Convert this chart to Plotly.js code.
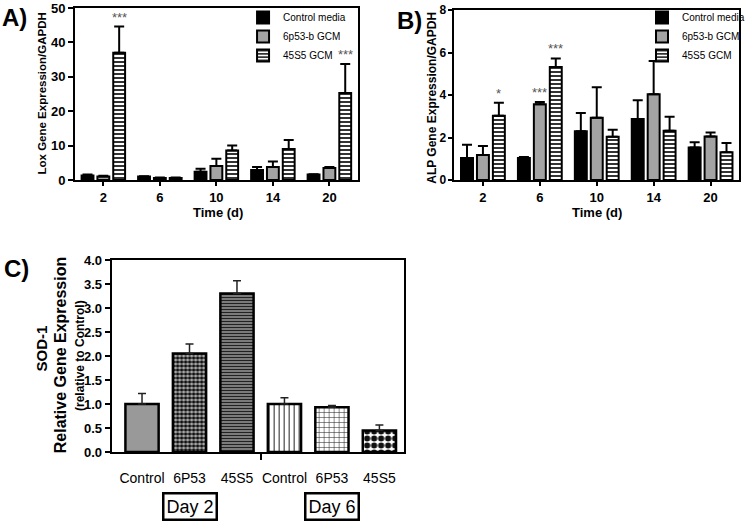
<!DOCTYPE html>
<html>
<head>
<meta charset="utf-8">
<script src="https://cdn.plot.ly/plotly-3.0.1.min.js"></script>
<style>html,body{margin:0;padding:0;background:#fff;}#chart{width:750px;height:523px;}</style>
</head>
<body>
<div id="chart"></div>
<script>
// ---------- DATA ----------
const days = ['2', '6', '10', '14', '20'];
const seriesNames = ['Control media', '6p53-b GCM', '45S5 GCM'];

// Panel A: Lox gene expression / GAPDH
const loxControl    = [1.3, 1.0, 2.4, 2.9, 1.6];
const loxControlErr = [0.3, 0.1, 0.9, 0.9, 0.1];
const lox6p53       = [1.0, 0.6, 4.1, 3.8, 3.5];
const lox6p53Err    = [0.2, 0.1, 2.1, 1.6, 0.3];
const lox45S5       = [37.0, 0.6, 8.6, 9.0, 25.3];
const lox45S5Err    = [7.6, 0.1, 1.4, 2.6, 8.4];
const loxSig45S5    = ['***', '', '', '', '***'];

// Panel B: ALP gene expression / GAPDH
const alpControl    = [1.03, 1.03, 2.30, 2.87, 1.53];
const alpControlErr = [0.63, 0.05, 0.85, 0.88, 0.25];
const alp6p53       = [1.18, 3.57, 2.93, 4.03, 2.05];
const alp6p53Err    = [0.42, 0.10, 1.43, 1.57, 0.18];
const alp45S5       = [3.02, 5.32, 2.04, 2.32, 1.31];
const alp45S5Err    = [0.62, 0.40, 0.32, 0.66, 0.43];
const alpSig6p53    = ['', '***', '', '', ''];
const alpSig45S5    = ['*', '***', '', '', ''];

// Panel C: SOD-1 relative gene expression
const sodLabels = ['Control', '6P53', '45S5', 'Control', '6P53', '45S5'];
const sodValues = [1.00, 2.05, 3.30, 1.00, 0.93, 0.45];
const sodErr    = [0.22, 0.20, 0.27, 0.13, 0.04, 0.11];
const dayLabels = ['Day 2', 'Day 6'];
const dayGroupCenter = [1, 4];

// ---------- STYLE ----------
const SANS = '"Liberation Sans", Arial, sans-serif';
const W = 750, H = 523;
const px = v => v / W;
const py = v => 1 - v / H;

const seriesStyle = [
  {color: 'black', pattern: {shape: ''}},
  {color: '#a3a3a3', pattern: {shape: ''}},
  {color: 'white', pattern: {shape: '-', fgcolor: 'black', bgcolor: 'white', size: 4, solidity: 0.4}}
];

// per-bar fills of panel C
const sodFill = [
  {color: '#999999', pattern: {shape: ''}},
  {color: '#999999', pattern: {shape: '.', fgcolor: '#111', bgcolor: '#bdbdbd', size: 4, solidity: 0.65}},
  {color: '#808080', pattern: {shape: '-', fgcolor: '#222', bgcolor: '#858585', size: 3, solidity: 0.4}},
  {color: 'white', pattern: {shape: '|', fgcolor: '#222', bgcolor: 'white', size: 5, solidity: 0.2}},
  {color: 'white', pattern: {shape: '+', fgcolor: '#222', bgcolor: 'white', size: 5, solidity: 0.2}},
  {color: 'white', pattern: {shape: '.', fgcolor: '#111', bgcolor: 'white', size: 7, solidity: 0.6}}
];

function barTrace(name, y, err, i, xa, ya, legend) {
  return {
    type: 'bar', name: name, x: days, y: y,
    xaxis: xa, yaxis: ya, legend: legend,
    marker: {color: seriesStyle[i].color, pattern: seriesStyle[i].pattern, line: {color: 'black', width: 2}},
    error_y: {type: 'data', symmetric: false, array: err, arrayminus: err.map(() => 0),
              color: 'black', thickness: 2, width: 5}
  };
}

const traces = [
  barTrace(seriesNames[0], loxControl, loxControlErr, 0, 'x', 'y', 'legend'),
  barTrace(seriesNames[1], lox6p53, lox6p53Err, 1, 'x', 'y', 'legend'),
  barTrace(seriesNames[2], lox45S5, lox45S5Err, 2, 'x', 'y', 'legend'),
  barTrace(seriesNames[0], alpControl, alpControlErr, 0, 'x2', 'y2', 'legend2'),
  barTrace(seriesNames[1], alp6p53, alp6p53Err, 1, 'x2', 'y2', 'legend2'),
  barTrace(seriesNames[2], alp45S5, alp45S5Err, 2, 'x2', 'y2', 'legend2')
];
sodLabels.forEach((lab, i) => traces.push({
  type: 'bar', name: lab, x: [i], y: [sodValues[i]], width: 0.7, offset: -0.35,
  xaxis: 'x3', yaxis: 'y3', showlegend: false,
  marker: {color: sodFill[i].color, pattern: sodFill[i].pattern, line: {color: 'black', width: 2.5}},
  error_y: {type: 'data', symmetric: false, array: [sodErr[i]], arrayminus: [0],
            color: '#222', thickness: 1.5, width: 4}
}));

const gap = 0.16;
const slot = (1 - gap) / 3;

const annotations = [];
function stars(sig, vals, errs, seriesIdx, xref, yref) {
  sig.forEach((s, i) => {
    if (!s) return;
    annotations.push({
      x: i + (seriesIdx - 1) * slot, y: vals[i] + errs[i], xref: xref, yref: yref,
      text: s, showarrow: false, xanchor: 'center', yanchor: 'bottom', yshift: 0,
      font: {family: SANS, size: 13, color: '#555'}
    });
  });
}
stars(loxSig45S5, lox45S5, lox45S5Err, 2, 'x', 'y');
stars(alpSig6p53, alp6p53, alp6p53Err, 1, 'x2', 'y2');
stars(alpSig45S5, alp45S5, alp45S5Err, 2, 'x2', 'y2');

[['A)', 0, 17], ['B)', 400, 21], ['C)', 2, 268]].forEach(([t, x, y]) => annotations.push({
  text: t, x: px(x), y: py(y), xref: 'paper', yref: 'paper', xanchor: 'left', yanchor: 'middle',
  showarrow: false, font: {family: SANS, size: 24, weight: 'bold', color: 'black'}
}));

function vtitle(text, x, y, size) {
  annotations.push({text: text, x: px(x), y: py(y), xref: 'paper', yref: 'paper', textangle: -90,
    xanchor: 'center', yanchor: 'middle', showarrow: false,
    font: {family: SANS, size: size, weight: 'bold', color: 'black'}});
}
vtitle('Lox Gene Expression/GAPDH', 43, 93, 11.5);
vtitle('ALP Gene Expression/GAPDH', 437, 98, 12);
vtitle('SOD-1', 42, 348, 15);
vtitle('Relative Gene Expression', 61, 355, 16);
vtitle('(relative to Control)', 81, 356, 12);
[[221, 213], [604, 213]].forEach(([x, y]) => annotations.push({
  text: 'Time (d)', x: px(x), y: py(y), xref: 'paper', yref: 'paper', showarrow: false,
  xanchor: 'center', yanchor: 'middle',
  font: {family: SANS, size: 13, weight: 'bold', color: 'black'}
}));

dayLabels.forEach((t, i) => annotations.push({
  text: t, x: dayGroupCenter[i], xref: 'x3', y: py(506), yref: 'paper', showarrow: false,
  xanchor: 'center', yanchor: 'middle',
  bordercolor: 'black', borderwidth: 2.5, borderpad: 2,
  font: {family: SANS, size: 18, color: 'black'}
}));

function yax(domain, range, dtick, anchor, fmt, fsize, tlen) {
  return {domain: domain, range: range, dtick: dtick, anchor: anchor, tickformat: fmt || '',
    showline: true, linecolor: 'black', linewidth: 2, mirror: true,
    ticks: 'outside', ticklen: tlen || 5, tickwidth: 2, tickcolor: 'black',
    ticklabeloverflow: 'allow',
    showgrid: false, zeroline: false, fixedrange: true,
    tickfont: {family: SANS, size: fsize || 13, weight: 'bold', color: 'black'}};
}
function xax(domain, anchor) {
  return {domain: domain, anchor: anchor, type: 'category',
    showline: true, linecolor: 'black', linewidth: 2, mirror: true,
    ticks: 'outside', ticklen: 4, tickwidth: 2, tickcolor: 'black',
    ticklabeloverflow: 'allow',
    showgrid: false, zeroline: false,
    tickfont: {family: SANS, size: 13, weight: 'bold', color: 'black'}};
}

const layout = {
  width: W, height: H, margin: {l: 0, r: 0, t: 0, b: 0},
  paper_bgcolor: 'white', plot_bgcolor: 'white',
  barmode: 'group', bargap: gap, bargroupgap: 0.25,
  showlegend: true,
  xaxis: xax([px(76), px(362)], 'y'),
  yaxis: yax([py(180), py(8)], [0, 50], 10, 'x'),
  xaxis2: xax([px(460), px(748)], 'y2'),
  yaxis2: yax([py(180), py(10)], [0, 8], 2, 'x2', '', 12, 4),
  xaxis3: {domain: [px(113), px(409)], anchor: 'y3', range: [-0.64, 5.52],
    tickvals: sodLabels.map((_, i) => i), ticktext: sodLabels, ticks: '',
    ticklabelstandoff: 12, ticklabeloverflow: 'allow',
    minor: {tickvals: [2.5], ticks: 'outside', ticklen: 6, tickwidth: 2, tickcolor: 'black'},
    showline: true, linecolor: 'black', linewidth: 2, mirror: true,
    showgrid: false, zeroline: false,
    tickfont: {family: SANS, size: 14, color: 'black'}},
  yaxis3: yax([py(452), py(260)], [0, 4], 0.5, 'x3', '.1f'),
  legend: {x: px(246), y: py(3), xanchor: 'left', yanchor: 'top', bgcolor: 'rgba(0,0,0,0)',
    font: {family: SANS, size: 10, color: 'black'}, tracegroupgap: 0},
  legend2: {x: px(650), y: py(3), xanchor: 'left', yanchor: 'top', bgcolor: 'rgba(0,0,0,0)',
    font: {family: SANS, size: 10, color: 'black'}, tracegroupgap: 0},
  annotations: annotations
};

Plotly.newPlot('chart', traces, layout, {displayModeBar: false, staticPlot: true});
</script>
</body>
</html>
